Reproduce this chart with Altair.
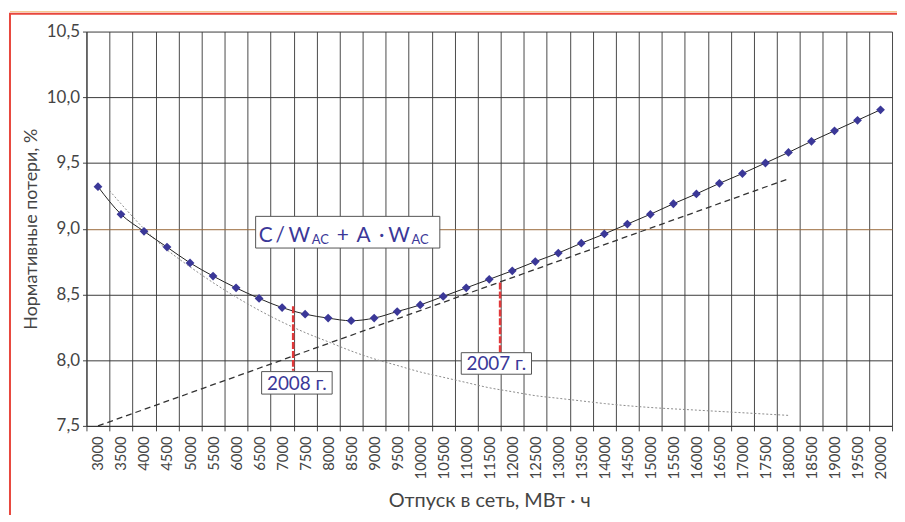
import altair as alt
import pandas as pd

# ---- data ----
supply = [3000, 3500, 4000, 4500, 5000, 5500, 6000, 6500, 7000, 7500, 8000, 8500,
          9000, 9500, 10000, 10500, 11000, 11500, 12000, 12500, 13000, 13500, 14000,
          14500, 15000, 15500, 16000, 16500, 17000, 17500, 18000, 18500, 19000,
          19500, 20000]
losses = [9.32, 9.11, 8.98, 8.86, 8.74, 8.64, 8.55, 8.47, 8.40, 8.35, 8.32, 8.30,
          8.32, 8.37, 8.42, 8.485, 8.55, 8.615, 8.68, 8.75, 8.815, 8.89, 8.96,
          9.035, 9.11, 9.19, 9.265, 9.345, 9.42, 9.50, 9.58, 9.665, 9.745,
          9.825, 9.905]

# linear component (dashed)
lin_x = [3000, 18000]
lin_y = [7.50, 9.38]

# hyperbolic component (dotted)
hyp_x = [3250, 3500, 4000, 4500, 5000, 5500, 6000, 6500, 7000, 7500, 8000, 8500,
         9000, 9500, 10000, 10500, 11000, 11500, 12000, 12500, 13000, 13500,
         14000, 15000, 16000, 17000, 18000]
hyp_y = [9.29, 9.19, 9.00, 8.84, 8.71, 8.59, 8.48, 8.38, 8.29, 8.21, 8.14, 8.07,
         8.01, 7.96, 7.91, 7.87, 7.83, 7.79, 7.76, 7.73, 7.71, 7.69, 7.67, 7.64,
         7.62, 7.60, 7.58]

# year markers
year_labels = ["2008 г.", "2007 г."]
year_x = [7240, 11735]
year_top = [8.41, 8.59]
year_bottom = [7.92, 8.06]
box_x1 = [6555, 10892]
box_x2 = [8087, 12418]
box_y1 = [7.742, 7.893]
box_y2 = [7.913, 8.057]

# formula label
formula_box = {"x1": 6425, "x2": 10426, "y1": 8.853, "y2": 9.094}
formula_parts = ["C", "/", "W", "AC", "+", "A", "·", "W", "AC"]
formula_x = [6645, 6958, 7375, 7832, 8318, 8767, 9166, 9541, 9997]
formula_sub = [False, False, False, True, False, False, False, False, True]

y_ticks = [7.5, 8.0, 8.5, 9.0, 9.5, 10.0, 10.5]

# ---- tables ----
main_df = pd.DataFrame({"x": supply, "y": losses})
lin_df = pd.DataFrame({"x": lin_x, "y": lin_y})
hyp_df = pd.DataFrame({"x": hyp_x, "y": hyp_y})
year_df = pd.DataFrame({"label": year_labels, "x": year_x, "top": year_top,
                        "bottom": year_bottom, "bx1": box_x1, "bx2": box_x2,
                        "by1": box_y1, "by2": box_y2,
                        "tx": [(a + b) / 2 for a, b in zip(box_x1, box_x2)],
                        "ty": [(a + b) / 2 for a, b in zip(box_y1, box_y2)]})
fbox_df = pd.DataFrame([formula_box])
ftext_df = pd.DataFrame({"t": formula_parts, "x": formula_x,
                         "y": [8.883 if s else 8.900 for s in formula_sub],
                         "size": [13 if s else 21 for s in formula_sub]})

grid_vals = [c - 250 for c in supply] + [supply[-1] + 250]
XDOM = [2750, 20250]

xs = alt.Scale(domain=XDOM, nice=False, zero=False)
ys = alt.Scale(domain=[7.5, 10.5], nice=False, zero=False)

TXT = "#444444"
BLUE = "#3b3898"


def X(field):
    return alt.X(field, scale=xs, axis=None)


def Y(field):
    return alt.Y(field, scale=ys, axis=None)


# gridline / tick axis layer
grid_layer = alt.Chart(main_df).mark_point(opacity=0).encode(
    x=alt.X("x:Q", scale=xs,
            axis=alt.Axis(values=grid_vals, grid=True, gridColor="#4a4a4a",
                          gridWidth=1, gridOpacity=1, labels=False, ticks=True,
                          tickSize=5, tickColor="#4a4a4a", domain=True,
                          domainColor="#333333", title=None, orient="bottom")),
    y=alt.Y("y:Q", scale=ys,
            axis=alt.Axis(values=y_ticks, grid=True, orient="left",
                          gridColor=alt.condition("datum.value == 9", alt.value("#9a6a3a"),
                                                  alt.value("#3a3a3a")),
                          tickSize=4, tickColor="#444444", domainColor="#333333",
                          labelExpr="replace(format(datum.value, '.1f'), '.', ',')",
                          labelFontSize=17, labelColor=TXT, labelPadding=3,
                          title="Нормативные потери, %", titleFontSize=18,
                          titleColor=TXT, titleFontWeight="normal", titlePadding=6)),
)

dotted = alt.Chart(hyp_df).mark_line(color="#8a8a8a", strokeWidth=1,
                                     strokeDash=[2, 2], interpolate="monotone").encode(
    x=alt.X("x:Q", scale=xs,
            axis=alt.Axis(values=supply, format="d", grid=False, ticks=False,
                          domain=False, labelAngle=270, labelFontSize=15,
                          labelColor=TXT, labelPadding=10, orient="bottom",
                          title="Отпуск в сеть, МВт · ч", titleFontSize=20,
                          titleColor=TXT, titleFontWeight="normal", titlePadding=12)),
    y=Y("y:Q"),
)

dashed = alt.Chart(lin_df).mark_line(color="#333333", strokeWidth=1.3,
                                     strokeDash=[6, 4]).encode(x=X("x:Q"), y=Y("y:Q"))

curve = alt.Chart(main_df).mark_line(color="#222222", strokeWidth=1,
                                     interpolate="monotone").encode(x=X("x:Q"), y=Y("y:Q"))

points = alt.Chart(main_df).mark_point(shape="diamond", filled=True, size=78,
                                       color=BLUE, opacity=1).encode(x=X("x:Q"), y=Y("y:Q"))

red_lines = alt.Chart(year_df).mark_rule(color="#e2383a", strokeWidth=2.5,
                                         strokeDash=[7, 2]).encode(
    x=X("x:Q"), y=Y("top:Q"), y2="bottom:Q")

year_boxes = alt.Chart(year_df).mark_rect(fill="white", stroke="#555555",
                                          strokeWidth=1).encode(
    x=X("bx1:Q"), x2="bx2:Q", y=Y("by1:Q"), y2="by2:Q")

year_text = alt.Chart(year_df).mark_text(color=BLUE, fontSize=19, align="center",
                                         baseline="middle", dy=1).encode(
    x=X("tx:Q"), y=Y("ty:Q"), text="label:N")

fbox = alt.Chart(fbox_df).mark_rect(fill="white", stroke="#555555",
                                    strokeWidth=1).encode(
    x=X("x1:Q"), x2="x2:Q", y=Y("y1:Q"), y2="y2:Q")

ftext = alt.Chart(ftext_df).mark_text(color=BLUE, align="center",
                                      baseline="alphabetic").encode(
    x=X("x:Q"), y=Y("y:Q"), text="t:N",
    size=alt.Size("size:Q", scale=None, legend=None))

frame = alt.Chart(alt.Data(values=[{}])).mark_rect(
    fill=None, stroke="#e8473d", strokeWidth=2).encode(
    x=alt.value(-77), x2=alt.value(1000), y=alt.value(-18), y2=alt.value(700))

frame_top = alt.Chart(alt.Data(values=[{}])).mark_rule(
    color="#f2c07a", strokeWidth=1).encode(
    x=alt.value(-77), x2=alt.value(1000), y=alt.value(-20))

chart = alt.layer(grid_layer, dotted, dashed, curve, points, red_lines,
                  year_boxes, year_text, fbox, ftext, frame_top, frame).resolve_axis(
    x="independent", y="independent").properties(
    width=811, height=397,
    autosize=alt.AutoSizeParams(type="none"),
    padding={"left": 79, "top": 22, "right": 5, "bottom": 88},
).configure(font="Lato", background="white").configure_view(strokeWidth=0)

chart.save("out.html", embed_options={"renderer": "svg", "actions": False})
